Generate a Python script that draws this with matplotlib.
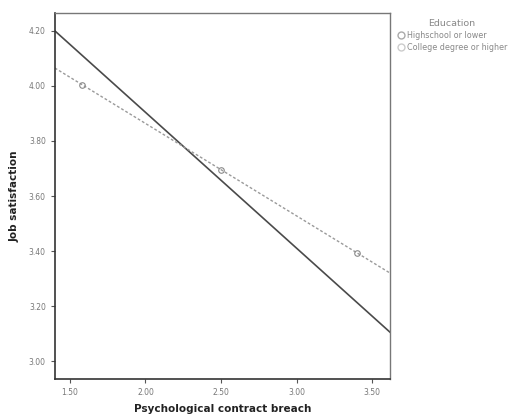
import numpy as np
import matplotlib
matplotlib.use("Agg")
import matplotlib.pyplot as plt

# fitted lines
breach_ends = [1.40, 3.62]
low_edu_ends = [4.20, 3.105]
high_edu_ends = [4.065, 3.32]

# circle markers visible on the dashed line
high_marker_x = [1.58, 2.50, 3.40]
high_marker_y = [4.005, 3.696, 3.394]

xticks = [1.50, 2.00, 2.50, 3.00, 3.50]
yticks = [3.00, 3.20, 3.40, 3.60, 3.80, 4.00, 4.20]

fig = plt.figure(figsize=(5.08, 4.18), dpi=100)
ax = fig.add_axes([0.108, 0.093, 0.66, 0.876])

ax.plot(breach_ends, low_edu_ends, color='#4a4a4a', lw=1.2,
        label='Highschool or lower')
ax.plot(breach_ends, high_edu_ends, color='#9a9a9a', lw=1.0, ls=(0, (2, 1.5)),
        label='College degree or higher')
ax.plot(high_marker_x, high_marker_y, ls='none', marker='o', markersize=4,
        mfc='none', mec='#8a8a8a', mew=0.8)

ax.set_xlim(1.40, 3.62)
ax.set_ylim(2.935, 4.265)
ax.set_xticks(xticks)
ax.set_yticks(yticks)
ax.set_xticklabels([f"{v:.2f}" for v in xticks])
ax.set_yticklabels([f"{v:.2f}" for v in yticks])
ax.tick_params(labelsize=5.5, labelcolor='#777777', color='#555555',
               length=3, width=0.8)

for side in ['left', 'bottom']:
    ax.spines[side].set_color('#333333')
    ax.spines[side].set_linewidth(1.2)
for side in ['top', 'right']:
    ax.spines[side].set_color('#777777')
    ax.spines[side].set_linewidth(1.0)

ax.set_xlabel('Psychological contract breach', fontsize=7.5, fontweight='bold',
              color='#222222', labelpad=5)
ax.set_ylabel('Job satisfaction', fontsize=7.5, fontweight='bold',
              color='#222222', labelpad=7)

handles = [
    plt.Line2D([], [], ls='none', marker='o', markersize=5, mfc='none',
               mec='#aaaaaa', mew=1.0),
    plt.Line2D([], [], ls='none', marker='o', markersize=5, mfc='none',
               mec='#cccccc', mew=1.0),
]
leg = fig.legend(handles, ['Highschool or lower', 'College degree or higher'],
                 title='Education', loc='upper left',
                 bbox_to_anchor=(0.775, 0.962), frameon=False,
                 fontsize=5.8, title_fontsize=6.8, handletextpad=0.2,
                 handlelength=1.0, borderaxespad=0, labelspacing=0.35)
for t in leg.get_texts():
    t.set_color('#888888')
leg.get_title().set_color('#888888')

fig.savefig('out.png', dpi=100)
